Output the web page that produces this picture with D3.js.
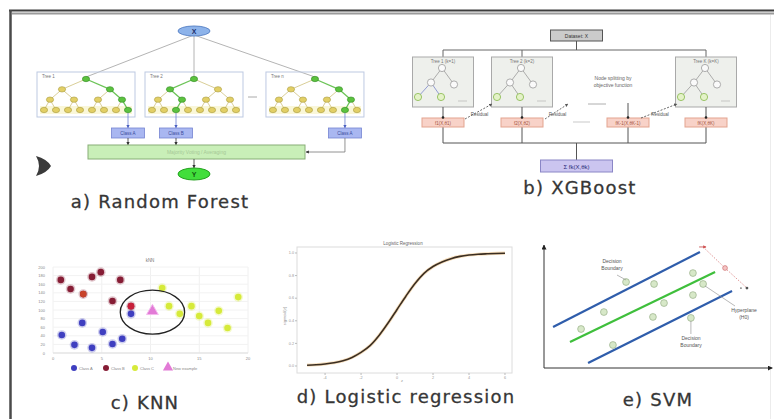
<!DOCTYPE html>
<html><head><meta charset="utf-8">
<script src="https://cdn.jsdelivr.net/npm/d3@7"></script>
<style>
html,body{margin:0;padding:0;background:#fff;}
svg{display:block;}
</style></head>
<body>
<svg id="fig" width="774" height="419"></svg>
<script>
// ---------------- data ----------------
const panelLabels = ["a) Random Forest", "b) XGBoost", "c) KNN", "d) Logistic regression", "e) SVM"];

// a) Random forest
const rfInput = "X";
const rfOutput = "Y";
const rfTreeNames = ["Tree 1", "Tree 2", "Tree n"];
const rfDecisionPaths = [[1, 1, 1], [0, 1, 0], [1, 1, 0]];   // left(0)/right(1) at each split
const rfPredictions = ["Class A", "Class B", "Class A"];
const rfVoteText = "Majority Voting / Averaging";

// b) XGBoost
const xgbDataset = "Dataset: X";
const xgbTreeNames = ["Tree 1 (k=1)", "Tree 2 (k=2)", "Tree K (k=K)"];
const xgbOutputs = ["f1(X,θ1)", "f2(X,θ2)", "fK-1(X,θK-1)", "fK(X,θK)"];
const xgbResidual = "Residual";
const xgbNote = ["Node splitting by", "objective function"];
const xgbSum = "Σ fk(X,θk)";

// c) KNN
const knnClassA = [[0.9, 42], [2.2, 19], [3.0, 70], [4.0, 12], [5.1, 49], [6.1, 21], [7.1, 33], [8.0, 91]];
const knnClassB = [[0.8, 170], [1.8, 149], [3.1, 137], [4.0, 177], [4.9, 188], [6.9, 170], [6.1, 121], [8.0, 109]];
const knnClassC = [[11.2, 151], [11.9, 109], [13.0, 91], [14.2, 109], [15.0, 86], [15.9, 70], [17.0, 98], [17.9, 58], [19.0, 130]];
const knnNewExample = [10.2, 95];
const knnRadius = [3.3, 51];
const knnXTicks = [0, 5, 10, 15, 20];
const knnYTicks = [0, 20, 40, 60, 80, 100, 120, 140, 160, 180, 200];
const knnLegend = ["Class A", "Class B", "Class C", "New example"];

// d) Logistic regression
const logZ = [-5, -4.5, -4, -3.5, -3, -2.5, -2, -1.5, -1, -0.5, 0, 0.5, 1, 1.5, 2, 2.5, 3, 3.5, 4, 4.5, 5, 5.5, 6];
const logP = [0.007, 0.011, 0.018, 0.029, 0.047, 0.076, 0.12, 0.18, 0.27, 0.38, 0.5, 0.62, 0.73, 0.82, 0.88, 0.92, 0.95, 0.97, 0.982, 0.989, 0.993, 0.996, 0.998];
const logXTicks = [-4, -2, 0, 2, 4, 6];
const logYTicks = [0, 0.2, 0.4, 0.6, 0.8, 1.0];

// e) SVM
const svmUpper = [[0.4, 3.33], [6.9, 9.43]];
const svmHyperplane = [[1.15, 2.11], [7.57, 7.8]];
const svmLower = [[1.95, 0.41], [8.32, 6.26]];
const svmPoints = [[3.63, 6.99], [4.87, 6.83], [6.59, 7.72], [7.04, 6.83], [5.31, 5.28], [6.59, 5.93],
                   [2.65, 4.55], [4.82, 4.15], [1.64, 3.17], [3.05, 1.87], [6.5, 4.07]];
const svmMargin = [[7.04, 9.84], [8.01, 8.13], [8.98, 6.5]];
const svmNotes = [["Decision", "Boundary"], ["Hyperplane", "(H0)"], ["Decision", "Boundary"]];

// ---------------- drawing ----------------
const svg = d3.select("#fig");
const tiny = "Liberation Sans, Arial, sans-serif";
svg.append("rect").attr("width", 774).attr("height", 419).attr("fill", "#fff");

const defs = svg.append("defs");
function marker(id, color, size) {
  defs.append("marker").attr("id", id).attr("viewBox", "0 0 10 10")
    .attr("refX", 9).attr("refY", 5).attr("markerWidth", size).attr("markerHeight", size)
    .attr("orient", "auto-start-reverse")
    .append("path").attr("d", "M0,0 L10,5 L0,10 Z").attr("fill", color);
}
marker("arDark", "#333", 4);
marker("arGray", "#555", 4);
marker("arBlue", "#4a5fc0", 4);
marker("arAxis", "#222", 5);
marker("arRed", "#d05050", 4);

// page frame
const frame = svg.append("g");
frame.append("line").attr("x1", 9).attr("x2", 774).attr("y1", 10.5).attr("y2", 10.5).attr("stroke", "#3d3d3d").attr("stroke-width", 2);
frame.append("line").attr("x1", 12).attr("x2", 774).attr("y1", 13.5).attr("y2", 13.5).attr("stroke", "#9a9a9a").attr("stroke-width", 2);
frame.append("line").attr("x1", 10.5).attr("x2", 10.5).attr("y1", 10).attr("y2", 419).attr("stroke", "#4a4a4a").attr("stroke-width", 2.5);
frame.append("line").attr("x1", 770.5).attr("x2", 770.5).attr("y1", 15).attr("y2", 419).attr("stroke", "#ececec").attr("stroke-width", 1);

function smallText(g, x, y, txt, opts = {}) {
  return g.append("text").attr("x", x).attr("y", y).text(txt)
    .attr("font-family", tiny).attr("font-size", opts.size || 5)
    .attr("fill", opts.fill || "#555").attr("text-anchor", opts.anchor || "middle");
}

// ===== a) Random Forest =====
const gA = svg.append("g");
const rfSlot = d3.scaleLinear().domain([0, 1]).range([86, 194]);
const rfSlotIndex = [0, 1, 2.12];
const rfDepthY = d3.scaleLinear().domain([0, 3]).range([79, 110]);
const rfLeafX = d3.scaleLinear().domain([-3.5, 3.5]).range([-42, 42]);
const rfTop = 35, rfPredY = 128, rfBar = {x0: 88, x1: 305, y0: 145, y1: 159}, rfOutY = 174, rfInY = 31;

// input node
const rfCenterX = rfSlot(1);
rfTreeNames.forEach((name, t) => {
  const cx = rfSlot(rfSlotIndex[t]);
  gA.append("line").attr("x1", rfCenterX).attr("y1", rfTop).attr("x2", cx).attr("y2", rfDepthY(0) - 2)
    .attr("stroke", "#b4b4b4").attr("stroke-width", 1);
});
gA.append("ellipse").attr("cx", rfCenterX).attr("cy", rfInY).attr("rx", 16).attr("ry", 5)
  .attr("fill", "#8db3ea").attr("stroke", "#5d86c8");
smallText(gA, rfCenterX, rfInY + 2.5, rfInput, {size: 7, fill: "#1d2f6a"}).attr("font-weight", "bold");

// trees
rfTreeNames.forEach((name, t) => {
  const cx = rfSlot(rfSlotIndex[t]);
  const path = rfDecisionPaths[t];
  gA.append("rect").attr("x", cx - 49).attr("y", 72).attr("width", 98).attr("height", 45)
    .attr("fill", "none").attr("stroke", "#bdc9e2").attr("stroke-width", 1);
  smallText(gA, cx - 44, 78, name, {anchor: "start", size: 4.5, fill: "#777"});
  // nodes
  const nodes = [];
  let pIdx = 0;
  for (let d = 0; d <= 3; d++) {
    if (d > 0) pIdx = pIdx * 2 + path[d - 1];
    const n = Math.pow(2, d);
    for (let i = 0; i < n; i++) {
      const leafPos = (i + 0.5) * Math.pow(2, 3 - d) - 0.5 - 3.5;
      nodes.push({d, i, x: cx + rfLeafX(leafPos), y: rfDepthY(d), on: i === pIdx});
    }
  }
  // leaf glow band
  gA.append("rect").attr("x", cx - 46).attr("y", rfDepthY(3) - 4).attr("width", 92).attr("height", 8)
    .attr("fill", "#f5f0b8").attr("opacity", 0.55);
  nodes.filter(n => n.d > 0).forEach(n => {
    const parent = nodes.find(p => p.d === n.d - 1 && p.i === Math.floor(n.i / 2));
    gA.append("line").attr("x1", parent.x).attr("y1", parent.y).attr("x2", n.x).attr("y2", n.y)
      .attr("stroke", (n.on && parent.on) ? "#6cc457" : "#cfc27c").attr("stroke-width", (n.on && parent.on) ? 1.3 : 0.8);
  });
  nodes.forEach(n => {
    gA.append("ellipse").attr("cx", n.x).attr("cy", n.y).attr("rx", 3.6).attr("ry", 2.7)
      .attr("fill", n.on ? "#5cc23f" : "#e2cf66").attr("stroke", n.on ? "#2f8a22" : "#a89a3e").attr("stroke-width", 0.6);
  });
  const leaf = nodes.find(n => n.d === 3 && n.on);
  // prediction box
  gA.append("line").attr("x1", leaf.x).attr("y1", leaf.y + 3).attr("x2", leaf.x).attr("y2", rfPredY)
    .attr("stroke", "#6b7fd0").attr("stroke-width", 0.8).attr("marker-end", "url(#arBlue)");
  gA.append("rect").attr("x", leaf.x - 16.5).attr("y", rfPredY).attr("width", 33).attr("height", 10)
    .attr("fill", "#a9b7f1").attr("stroke", "#7584d2").attr("stroke-width", 0.8);
  smallText(gA, leaf.x, rfPredY + 7, rfPredictions[t], {size: 4.5, fill: "#3a4a9a"});
  if (leaf.x < rfBar.x1) {
    gA.append("line").attr("x1", leaf.x).attr("y1", rfPredY + 10).attr("x2", leaf.x).attr("y2", rfBar.y0)
      .attr("stroke", "#333").attr("stroke-width", 0.8).attr("marker-end", "url(#arDark)");
  } else {
    const my = (rfBar.y0 + rfBar.y1) / 2;
    gA.append("path").attr("d", `M${leaf.x},${rfPredY + 10} L${leaf.x},${my} L${rfBar.x1 + 1},${my}`)
      .attr("fill", "none").attr("stroke", "#777").attr("stroke-width", 0.8).attr("marker-end", "url(#arDark)");
  }
});
// dots between tree 2 and tree n
gA.append("line").attr("x1", 248).attr("x2", 257).attr("y1", 97).attr("y2", 97).attr("stroke", "#aaa").attr("stroke-width", 1);

// voting bar
gA.append("rect").attr("x", rfBar.x0).attr("y", rfBar.y0).attr("width", rfBar.x1 - rfBar.x0).attr("height", rfBar.y1 - rfBar.y0)
  .attr("fill", "#c9efb8").attr("stroke", "#87ae76").attr("stroke-width", 1);
smallText(gA, (rfBar.x0 + rfBar.x1) / 2, rfBar.y1 - 5, rfVoteText, {size: 5, fill: "#a6c897"});
gA.append("line").attr("x1", rfCenterX).attr("y1", rfBar.y1).attr("x2", rfCenterX).attr("y2", rfOutY - 6)
  .attr("stroke", "#333").attr("stroke-width", 0.8).attr("marker-end", "url(#arDark)");
gA.append("ellipse").attr("cx", rfCenterX).attr("cy", rfOutY).attr("rx", 16).attr("ry", 6)
  .attr("fill", "#41de3b").attr("stroke", "#22a01c");
smallText(gA, rfCenterX, rfOutY + 2.5, rfOutput, {size: 7, fill: "#135a10"}).attr("font-weight", "bold");
// side chevron
gA.append("path").attr("d", "M36,156 Q47,159 51,166 Q47,173 36,176 Q42,166 36,156 Z").attr("fill", "#3a3a3a");

// ===== b) XGBoost =====
const gB = svg.append("g");
const xgbColX = [443, 522, 628, 706];
const xgbTreeCols = [0, 1, 3];
const xgbTopLine = 50, xgbBoxY0 = 57, xgbBoxY1 = 107, xgbOutY = 118, xgbBottomLine = 143, xgbCenterX = 576.5;
const xgbDepthY = d3.scaleLinear().domain([0, 2]).range([68, 97]);
// dataset box
gB.append("rect").attr("x", xgbCenterX - 26).attr("y", 30).attr("width", 52).attr("height", 11)
  .attr("fill", "#cbcbcb").attr("stroke", "#555").attr("stroke-width", 1);
smallText(gB, xgbCenterX, 37.5, xgbDataset, {size: 5, fill: "#333"});
gB.append("line").attr("x1", xgbCenterX).attr("x2", xgbCenterX).attr("y1", 41).attr("y2", xgbTopLine).attr("stroke", "#555");
gB.append("line").attr("x1", xgbColX[0]).attr("x2", xgbColX[3]).attr("y1", xgbTopLine).attr("y2", xgbTopLine).attr("stroke", "#666");
// tree boxes
const xgbNodes = [{dx: 0, d: 0}, {dx: -11, d: 1, p: 0}, {dx: 12, d: 1, p: 0, y: 2}, {dx: -24, d: 2, p: 1, leaf: true}, {dx: -1, d: 2, p: 1, leaf: true}];
xgbTreeNames.forEach((name, t) => {
  const cx = xgbColX[xgbTreeCols[t]];
  gB.append("line").attr("x1", cx).attr("x2", cx).attr("y1", xgbTopLine).attr("y2", xgbBoxY0).attr("stroke", "#666");
  gB.append("rect").attr("x", cx - 30.5).attr("y", xgbBoxY0).attr("width", 61).attr("height", xgbBoxY1 - xgbBoxY0)
    .attr("fill", "#eef0ec").attr("stroke", "#a9a9a9").attr("stroke-width", 1);
  smallText(gB, cx, 62.5, name, {size: 4.5, fill: "#777"});
  const rootX = cx - 1;
  const pos = xgbNodes.map(n => ({x: rootX + n.dx, y: xgbDepthY(n.d) + (n.y || 0)}));
  xgbNodes.forEach((n, i) => {
    if (n.p === undefined) return;
    gB.append("line").attr("x1", pos[n.p].x).attr("y1", pos[n.p].y).attr("x2", pos[i].x).attr("y2", pos[i].y)
      .attr("stroke", (t === 0 && n.d === 2) ? "#7b86cc" : "#9a9a9a").attr("stroke-width", 0.8);
  });
  xgbNodes.forEach((n, i) => {
    gB.append("circle").attr("cx", pos[i].x).attr("cy", pos[i].y).attr("r", 3.6)
      .attr("fill", n.leaf ? "#e4f2c8" : "#fafafa").attr("stroke", n.leaf ? "#86b94a" : "#9a9a9a").attr("stroke-width", 0.8);
  });
  gB.append("line").attr("x1", cx + 15).attr("x2", cx + 24).attr("y1", 101).attr("y2", 101).attr("stroke", "#bbb").attr("stroke-width", 0.8);
});
// note
xgbNote.forEach((s, i) => smallText(gB, 613, 80 + i * 7, s, {size: 5, fill: "#666"}));
// outputs
xgbOutputs.forEach((lab, i) => {
  const cx = xgbColX[i];
  const yStart = xgbTreeCols.includes(i) ? xgbBoxY1 : 103;
  gB.append("line").attr("x1", cx).attr("x2", cx).attr("y1", yStart).attr("y2", xgbBottomLine).attr("stroke", "#555");
  gB.append("rect").attr("x", cx - 21).attr("y", xgbOutY).attr("width", 42).attr("height", 9)
    .attr("fill", "#f8d2c8").attr("stroke", "#e3a48f").attr("stroke-width", 1);
  smallText(gB, cx, xgbOutY + 6.5, lab, {size: 4.5, fill: "#a5543c"});
  gB.append("circle").attr("cx", cx).attr("cy", xgbOutY - 0.5).attr("r", 1.3).attr("fill", "#222");
});
gB.append("line").attr("x1", xgbColX[0]).attr("x2", xgbColX[3]).attr("y1", xgbBottomLine).attr("y2", xgbBottomLine).attr("stroke", "#555");
gB.append("line").attr("x1", xgbCenterX).attr("x2", xgbCenterX).attr("y1", xgbBottomLine).attr("y2", 160).attr("stroke", "#555");
// residual arrows
const residualArrows = [[465, 119, 492, 104], [545, 119, 568, 104], [641, 118, 677, 104]];
residualArrows.forEach(([x1, y1, x2, y2]) => {
  gB.append("line").attr("x1", x1).attr("y1", y1).attr("x2", x2).attr("y2", y2)
    .attr("stroke", "#444").attr("stroke-width", 0.8).attr("stroke-dasharray", "2,1.5").attr("marker-end", "url(#arGray)");
  smallText(gB, (x1 + x2) / 2 + 1, 116, xgbResidual, {size: 4.5, fill: "#555"});
});
gB.append("line").attr("x1", 588).attr("x2", 606).attr("y1", 104).attr("y2", 104).attr("stroke", "#999").attr("stroke-width", 0.8);
gB.append("line").attr("x1", 573).attr("x2", 590).attr("y1", 122).attr("y2", 122).attr("stroke", "#bbb").attr("stroke-width", 0.8);
// sum
gB.append("rect").attr("x", xgbCenterX - 36).attr("y", 160).attr("width", 72).attr("height", 12)
  .attr("fill", "#cbc5f0").attr("stroke", "#8a86c6").attr("stroke-width", 1);
smallText(gB, xgbCenterX, 168.5, xgbSum, {size: 6, fill: "#2c2a78"});

// ===== c) KNN =====
const gC = svg.append("g");
const kx = d3.scaleLinear().domain([0, 20]).range([53, 248]);
const ky = d3.scaleLinear().domain([0, 200]).range([353, 267]);
knnXTicks.forEach(v => gC.append("line").attr("x1", kx(v)).attr("x2", kx(v)).attr("y1", ky(0)).attr("y2", ky(200)).attr("stroke", "#f0f0f0"));
knnYTicks.forEach(v => gC.append("line").attr("x1", kx(0)).attr("x2", kx(20)).attr("y1", ky(v)).attr("y2", ky(v)).attr("stroke", "#f2f2f2"));
gC.append("line").attr("x1", kx(0)).attr("x2", kx(20)).attr("y1", ky(0)).attr("y2", ky(0)).attr("stroke", "#ddd");
knnXTicks.forEach(v => smallText(gC, kx(v), 359.5, v, {size: 4, fill: "#888"}));
knnYTicks.forEach(v => smallText(gC, 45, ky(v) + 1.5, v, {size: 4, fill: "#888", anchor: "end"}));
smallText(gC, 150, 262, "kNN", {size: 4.5, fill: "#777"});
const knnColors = ["#3f3fc0", "#861d35", "#d6ea3a"];
[knnClassA, knnClassB, knnClassC].forEach((pts, c) => {
  gC.selectAll(null).data(pts).enter().append("circle")
    .attr("cx", d => kx(d[0])).attr("cy", d => ky(d[1])).attr("r", 4.8)
    .attr("fill", knnColors[c]).attr("opacity", 0.25);
  gC.selectAll(null).data(pts).enter().append("circle")
    .attr("cx", d => kx(d[0])).attr("cy", d => ky(d[1])).attr("r", 3.3)
    .attr("fill", knnColors[c]);
});
// highlighted class B points in brighter tones
gC.append("circle").attr("cx", kx(knnClassB[2][0])).attr("cy", ky(knnClassB[2][1])).attr("r", 3.3).attr("fill", "#c8432a");
gC.append("circle").attr("cx", kx(knnClassB[7][0])).attr("cy", ky(knnClassB[7][1])).attr("r", 3.3).attr("fill", "#c8203a");
const tri = d3.symbol().type(d3.symbolTriangle).size(60);
gC.append("path").attr("d", tri).attr("transform", `translate(${kx(knnNewExample[0])},${ky(knnNewExample[1]) - 1})`)
  .attr("fill", "#e27ad6").attr("stroke", "#f4b8ee").attr("stroke-width", 1);
gC.append("ellipse").attr("cx", kx(knnNewExample[0])).attr("cy", ky(knnNewExample[1]))
  .attr("rx", kx(knnRadius[0]) - kx(0)).attr("ry", ky(0) - ky(knnRadius[1]))
  .attr("fill", "none").attr("stroke", "#222").attr("stroke-width", 1.3);
// legend
const legX = [74, 106, 135, 168];
knnLegend.forEach((lab, i) => {
  if (i < 3) gC.append("circle").attr("cx", legX[i]).attr("cy", 368).attr("r", 3).attr("fill", knnColors[i]);
  else gC.append("path").attr("d", d3.symbol().type(d3.symbolTriangle).size(45)).attr("transform", `translate(${legX[i]},367.5)`).attr("fill", "#e27ad6");
  smallText(gC, legX[i] + 5, 369.5, lab, {size: 4, fill: "#888", anchor: "start"});
});

// ===== d) Logistic regression =====
const gD = svg.append("g");
const lx = d3.scaleLinear().domain([-5.56, 6.39]).range([297, 512]);
const ly = d3.scaleLinear().domain([-0.062, 1.053]).range([373, 247]);
gD.append("rect").attr("x", lx.range()[0]).attr("y", ly.range()[1]).attr("width", lx.range()[1] - lx.range()[0]).attr("height", ly.range()[0] - ly.range()[1])
  .attr("fill", "none").attr("stroke", "#dcdcdc").attr("stroke-width", 1);
logXTicks.forEach(v => {
  gD.append("line").attr("x1", lx(v)).attr("x2", lx(v)).attr("y1", 373).attr("y2", 375).attr("stroke", "#bbb");
  smallText(gD, lx(v), 378.5, v, {size: 3.8, fill: "#999"});
});
logYTicks.forEach(v => {
  gD.append("line").attr("x1", 295).attr("x2", 297).attr("y1", ly(v)).attr("y2", ly(v)).attr("stroke", "#bbb");
  smallText(gD, 294, ly(v) + 1.3, v.toFixed(1), {size: 3.8, fill: "#999", anchor: "end"});
});
smallText(gD, 403, 245, "Logistic Regression", {size: 4.5, fill: "#666"});
smallText(gD, 402, 382, "z", {size: 4, fill: "#999"});
smallText(gD, 0, 0, "sigmoid(z)", {size: 4, fill: "#888"}).attr("transform", "translate(286,316) rotate(-90)");
const logData = logZ.map((z, i) => [z, logP[i]]);
const logLine = d3.line().x(d => lx(d[0])).y(d => ly(d[1])).curve(d3.curveMonotoneX);
gD.append("path").datum(logData).attr("d", logLine).attr("fill", "none").attr("stroke", "#f0c890").attr("stroke-width", 3.2).attr("opacity", 0.6);
gD.append("path").datum(logData).attr("d", logLine).attr("fill", "none").attr("stroke", "#3b2e22").attr("stroke-width", 1.6);

// ===== e) SVM =====
const gE = svg.append("g");
const sx = d3.scaleLinear().domain([0, 10]).range([544, 770]);
const sy = d3.scaleLinear().domain([0, 10]).range([368, 245]);
gE.append("line").attr("x1", sx(0)).attr("y1", sy(0)).attr("x2", sx(0)).attr("y2", sy(10)).attr("stroke", "#333").attr("stroke-width", 1).attr("marker-end", "url(#arAxis)");
gE.append("line").attr("x1", sx(0)).attr("y1", sy(0)).attr("x2", sx(10.1)).attr("y2", sy(0)).attr("stroke", "#333").attr("stroke-width", 1).attr("marker-end", "url(#arAxis)");
const svmLine = d3.line().x(d => sx(d[0])).y(d => sy(d[1]));
gE.append("path").datum(svmUpper).attr("d", svmLine).attr("stroke", "#2f5dab").attr("stroke-width", 2.2).attr("fill", "none");
gE.append("path").datum(svmHyperplane).attr("d", svmLine).attr("stroke", "#3fbf3c").attr("stroke-width", 2.2).attr("fill", "none");
gE.append("path").datum(svmLower).attr("d", svmLine).attr("stroke", "#2f5dab").attr("stroke-width", 2.2).attr("fill", "none");
gE.selectAll(null).data(svmPoints).enter().append("circle")
  .attr("cx", d => sx(d[0])).attr("cy", d => sy(d[1])).attr("r", 3.4)
  .attr("fill", "#d7e8c8").attr("stroke", "#9ab08a").attr("stroke-width", 0.7);
// margin indicator
gE.append("path").datum(svmMargin).attr("d", svmLine).attr("stroke", "#d77a7a").attr("stroke-width", 0.8).attr("stroke-dasharray", "1.5,1.5").attr("fill", "none");
gE.append("line").attr("x1", sx(svmMargin[0][0]) - 4).attr("y1", sy(svmMargin[0][1])).attr("x2", sx(svmMargin[0][0]) + 3).attr("y2", sy(svmMargin[0][1]))
  .attr("stroke", "#c04040").attr("stroke-width", 0.8).attr("marker-end", "url(#arRed)");
gE.append("circle").attr("cx", sx(svmMargin[1][0])).attr("cy", sy(svmMargin[1][1])).attr("r", 2.4).attr("fill", "#f4c4c4").attr("stroke", "#c86060").attr("stroke-width", 0.6);
gE.append("circle").attr("cx", sx(svmMargin[2][0])).attr("cy", sy(svmMargin[2][1])).attr("r", 1.4).attr("fill", "#555");
gE.append("circle").attr("cx", sx(svmMargin[2][0]) - 6).attr("cy", sy(svmMargin[2][1])).attr("r", 0.9).attr("fill", "#777");
// annotations
const notePos = [[612, 263], [744, 312], [691, 340]];
svmNotes.forEach((lines, i) => lines.forEach((s, j) => smallText(gE, notePos[i][0], notePos[i][1] + j * 6.5, s, {size: 5, fill: "#555"})));
gE.append("line").attr("x1", 617).attr("y1", 275).attr("x2", sx(svmPoints[0][0])).attr("y2", sy(svmPoints[0][1]) - 2).attr("stroke", "#888").attr("stroke-width", 0.6);
gE.append("line").attr("x1", sx(svmPoints[3][0]) + 2).attr("y1", sy(svmPoints[3][1]) + 2).attr("x2", 735).attr("y2", 306).attr("stroke", "#888").attr("stroke-width", 0.6);
gE.append("line").attr("x1", sx(svmPoints[10][0])).attr("y1", sy(svmPoints[10][1]) + 3).attr("x2", sx(svmPoints[10][0])).attr("y2", 334).attr("stroke", "#888").attr("stroke-width", 0.6);

// ===== panel captions =====
const captionPos = [[160, 208], [580, 194], [145, 409], [406, 403], [658, 406]];
panelLabels.forEach((lab, i) => {
  svg.append("text").attr("x", captionPos[i][0]).attr("y", captionPos[i][1]).text(lab)
    .attr("text-anchor", "middle").attr("font-family", "DejaVu Sans, sans-serif")
    .attr("font-size", 18).attr("letter-spacing", 1.2).attr("fill", "#363636")
    .attr("stroke", "#363636").attr("stroke-width", 0.3);
});
</script>
</body></html>
